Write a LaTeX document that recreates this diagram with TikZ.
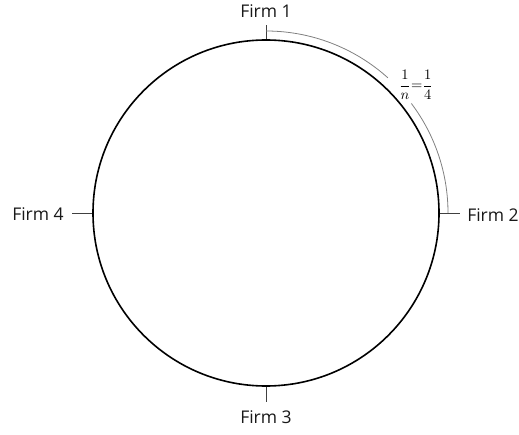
\documentclass[tikz,border=0pt]{standalone}
\usepackage{fix-cm}
\usepackage{graphicx}
\usepackage{fontspec}
\setmainfont{Open Sans}
\begin{document}
\begin{tikzpicture}[x=1pt,y=1pt,
  ring/.style={draw=black, line width=1.6pt, circle, minimum size=346pt, inner sep=0pt},
  tickline/.style={draw=black!75, line width=0.8pt},
  spanarc/.style={draw=black!50, line width=0.8pt},
  firm/.style={font=\fontsize{17.5}{20}\selectfont, text=black!90, inner sep=0pt},
  frac/.style={inner sep=0pt}]
\useasboundingbox (0,0) rectangle (519,434);
\node[ring] (C) at (266,221) {};
\coordinate (t1) at (266,409);
\coordinate (t2) at (460,221);
\coordinate (t3) at (266,32);
\coordinate (t4) at (72,221);
\draw[tickline] (C.north) -- (t1);
\draw[tickline] (C.east) -- (t2);
\draw[tickline] (C.south) -- (t3);
\draw[tickline] (C.west) -- (t4);
\node[firm] (f1) at (266,423) {Firm 1};
\node[firm] (f2) at (493,219) {Firm 2};
\node[firm] (f3) at (266,17) {Firm 3};
\node[firm] (f4) at (38,220) {Firm 4};
\draw[spanarc] ([shift={(90:182pt)}]C.center) arc[start angle=90, end angle=48, radius=182pt];
\draw[spanarc] ([shift={(37:182pt)}]C.center) arc[start angle=37, end angle=0, radius=182pt];
\node[frac] (lab) at (416,349) {\scalebox{1.45}{$\displaystyle\frac{1}{n}{=}\frac{1}{4}$}};
\end{tikzpicture}
\end{document}
